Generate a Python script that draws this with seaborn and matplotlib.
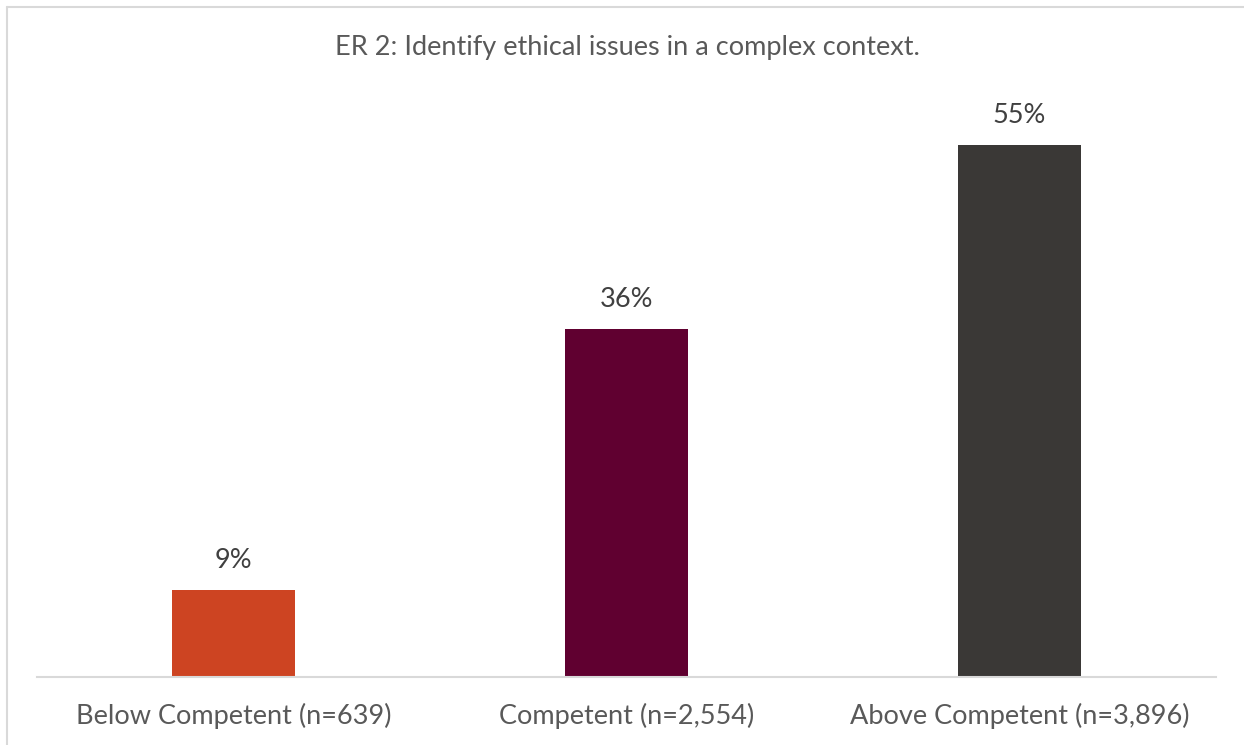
import matplotlib
matplotlib.use("Agg")
import matplotlib.pyplot as plt
import seaborn as sns
import pandas as pd
from matplotlib.lines import Line2D

categories = ["Below Competent (n=639)", "Competent (n=2,554)", "Above Competent (n=3,896)"]
values = [9, 36, 55]
labels = ["9%", "36%", "55%"]
colors = ["#CD4422", "#600030", "#3A3836"]
title = "ER 2: Identify ethical issues in a complex context."

sns.set_theme(style="white")
plt.rcParams['font.family'] = ['Lato', 'DejaVu Sans']

W, H = 1244, 745
fig = plt.figure(figsize=(W / 100, H / 100), dpi=100)
left, right, bottom = 37, 1216, 677
top = bottom - 60 * 9.68
ax = fig.add_axes([left / W, 1 - bottom / H, (right - left) / W, (bottom - top) / H])

df = pd.DataFrame({"cat": categories, "val": values})
sns.barplot(data=df, x="cat", y="val", hue="cat", palette=colors, width=0.315,
            ax=ax, legend=False, saturation=1, linewidth=0)
ax.set_ylim(0, 60)
ax.set_xlim(-0.5, 2.5)
for i, (v, lab) in enumerate(zip(values, labels)):
    ax.annotate(lab, (i, v), xytext=(0, 21), textcoords="offset points",
                ha="center", va="center", fontsize=19.5, color="#404040")

for s in ["top", "right", "left"]:
    ax.spines[s].set_visible(False)
ax.spines["bottom"].set_color("#D9D9D9")
ax.spines["bottom"].set_linewidth(1.5)
ax.set_yticks([])
ax.set_xlabel("")
ax.set_ylabel("")
ax.tick_params(axis="x", length=0, pad=19, labelsize=19.5, labelcolor="#595959")

fig.text(627 / W, 1 - 48 / H, title, ha="center", va="center", fontsize=19.5, color="#595959")

# figure border (left and top visible)
fig.add_artist(Line2D([7 / W, 7 / W], [0, 1 - 7 / H], transform=fig.transFigure,
                      color="#D9D9D9", lw=1.5))
fig.add_artist(Line2D([7 / W, 1], [1 - 7 / H, 1 - 7 / H], transform=fig.transFigure,
                      color="#D9D9D9", lw=1.5))

fig.savefig("out.png", dpi=100)
